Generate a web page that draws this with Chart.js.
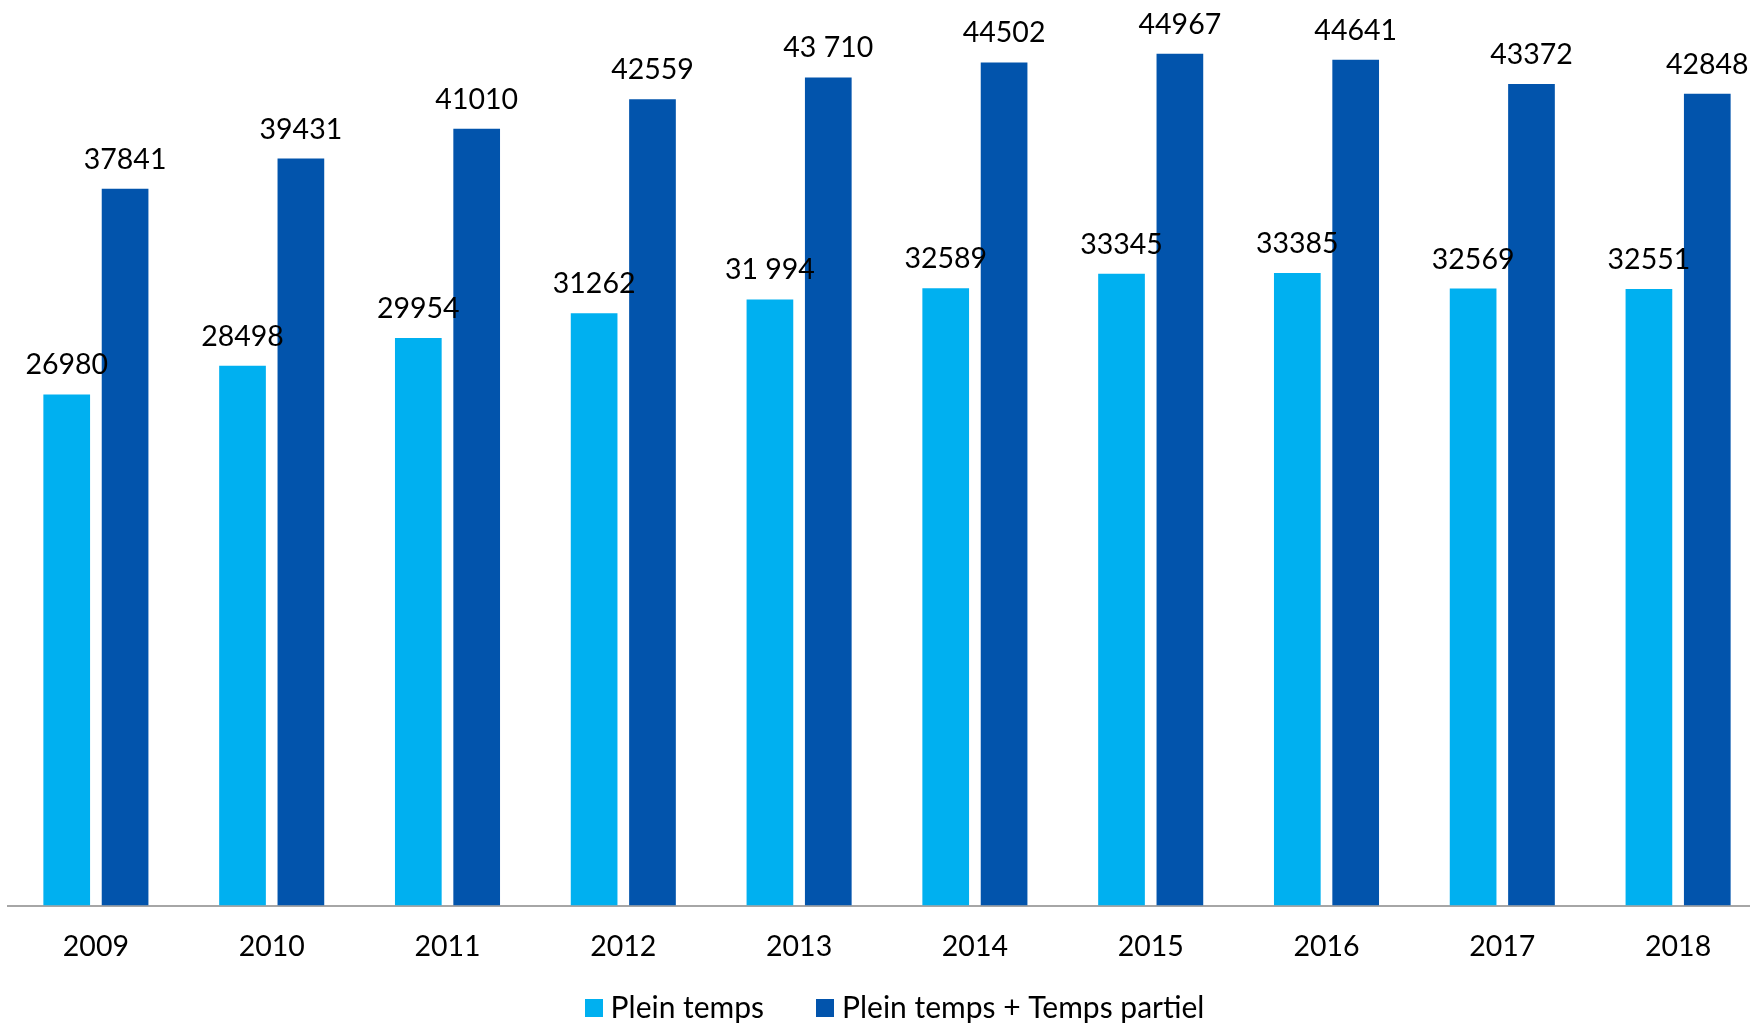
<!DOCTYPE html>
<html><head><meta charset="utf-8">
<script src="https://cdn.jsdelivr.net/npm/chart.js@4/dist/chart.umd.min.js"></script>
<style>
html,body{margin:0;padding:0;background:#fff;overflow:hidden}
#wrap{width:1750px;height:1024px;overflow:hidden;position:relative;background:#fff}
canvas{display:block}
</style></head><body>
<div id="wrap"><canvas id="c" width="1786" height="1033"></canvas></div>
<script>
const years = ['2009','2010','2011','2012','2013','2014','2015','2016','2017','2018'];
const seriesNames = ['Plein temps','Plein temps + Temps partiel'];
const pleinTemps = [26980,28498,29954,31262,31994,32589,33345,33385,32569,32551];
const pleinTempsLabels = ['26980','28498','29954','31262','31 994','32589','33345','33385','32569','32551'];
const total = [37841,39431,41010,42559,43710,44502,44967,44641,43372,42848];
const totalLabels = ['37841','39431','41010','42559','43 710','44502','44967','44641','43372','42848'];
const colors = ['#00B0F0','#0254AC'];
const FONT = 'Lato';
const LEGEND_SIZE = 30;
const LEGEND_PAD = 5.2;
const LEGEND_GAP = 59;
const LEGEND_SHIFT = 11;
const BOX = 18;

// extra spacing between the two legend items (Chart.js uses one padding for both gap and vertical)
const mctx = document.createElement('canvas').getContext('2d');
mctx.font = LEGEND_SIZE + 'px ' + FONT;
const nbspW = mctx.measureText('\u00A0').width || 8;
const gapFill = '\u00A0'.repeat(Math.max(0, Math.round((LEGEND_GAP - LEGEND_PAD) / nbspW)));

// square legend markers
function swatch(color) {
  const c = document.createElement('canvas');
  c.width = BOX; c.height = BOX;
  const g = c.getContext('2d');
  g.fillStyle = color;
  g.fillRect(0, 0, BOX, BOX);
  return c;
}
const swatches = colors.map(swatch);

const legendShift = {
  id: 'legendShift',
  afterLayout(chart) {
    if (chart.legend) {
      chart.legend.left += LEGEND_SHIFT;
      chart.legend.right += LEGEND_SHIFT;
    }
  }
};

const valueLabels = {
  id: 'valueLabels',
  afterDatasetsDraw(chart) {
    const ctx = chart.ctx;
    ctx.save();
    ctx.font = '28.5px ' + FONT;
    ctx.fillStyle = '#000';
    ctx.textAlign = 'center';
    ctx.textBaseline = 'alphabetic';
    chart.data.datasets.forEach((ds, di) => {
      const meta = chart.getDatasetMeta(di);
      meta.data.forEach((el, i) => {
        ctx.fillText(ds.valueText[i], el.x, el.y - 20);
      });
    });
    ctx.restore();
  }
};

new Chart(document.getElementById('c'), {
  type: 'bar',
  data: {
    labels: years,
    datasets: [
      {label: seriesNames[0], data: pleinTemps, valueText: pleinTempsLabels, backgroundColor: colors[0], borderWidth: 0},
      {label: seriesNames[1], data: total, valueText: totalLabels, backgroundColor: colors[1], borderWidth: 0}
    ]
  },
  options: {
    responsive: false,
    animation: false,
    devicePixelRatio: 1,
    categoryPercentage: 0.664,
    barPercentage: 0.8,
    layout: {padding: {left: 8, right: 20, top: 0, bottom: 0}},
    plugins: {
      legend: {
        position: 'bottom',
        labels: {
          font: {family: FONT, size: LEGEND_SIZE},
          color: '#000',
          usePointStyle: true,
          pointStyleWidth: 4,
          boxHeight: BOX,
          padding: LEGEND_PAD,
          generateLabels(chart) {
            const items = Chart.defaults.plugins.legend.labels.generateLabels(chart);
            items.forEach((it, i) => {
              it.pointStyle = swatches[i];
              if (i < items.length - 1) it.text = it.text + gapFill;
            });
            return items;
          }
        }
      },
      tooltip: {enabled: false}
    },
    scales: {
      x: {
        grid: {display: false, drawTicks: false},
        border: {display: true, color: '#A6A6A6', width: 2},
        ticks: {font: {family: FONT, size: 28.5}, color: '#000', padding: 24}
      },
      y: {
        display: false,
        min: 0,
        max: 47800
      }
    }
  },
  plugins: [valueLabels, legendShift]
});
</script>
</body></html>
